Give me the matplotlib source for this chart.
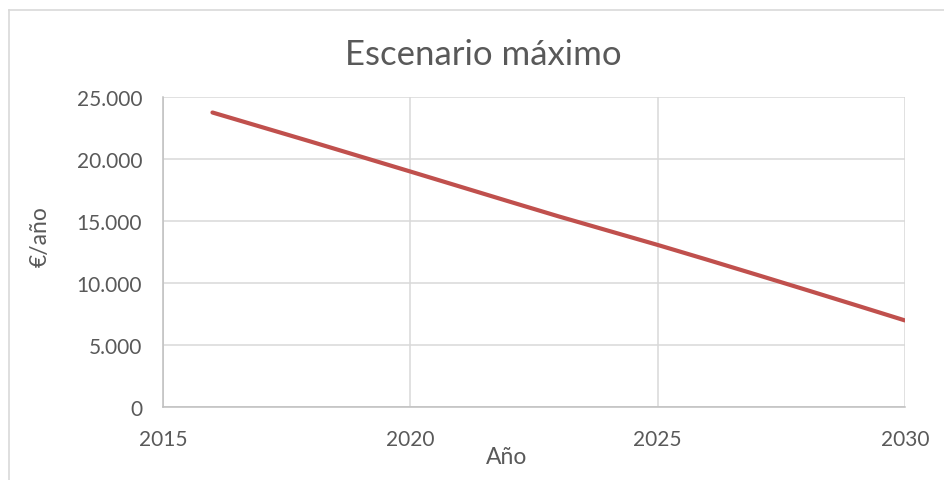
import matplotlib
matplotlib.use("Agg")
import matplotlib.pyplot as plt
from matplotlib.lines import Line2D
from matplotlib.ticker import FuncFormatter, MultipleLocator

years = [2016, 2017, 2018, 2019, 2020, 2021, 2022, 2023, 2024, 2025, 2026, 2027, 2028, 2029, 2030]
values = [23750, 22570, 21390, 20190, 18990, 17780, 16570, 15370, 14220, 13070, 11880, 10670, 9450, 8220, 6980]
title = "Escenario máximo"
xlabel = "Año"
ylabel = "€/año"

plt.rcParams['font.family'] = ['Lato', 'DejaVu Sans']
txt = '#595959'

fig = plt.figure(figsize=(9.44, 4.81), dpi=100)
W, H = 944, 481
ax = fig.add_axes([163 / W, 1 - 408 / H, (905 - 163) / W, (408 - 98) / H])

ax.plot(years, values, color='#c0504d', lw=3.0, solid_capstyle='round', zorder=3)

ax.set_xlim(2015, 2030)
ax.set_ylim(0, 25000)
ax.xaxis.set_major_locator(MultipleLocator(5))
ax.yaxis.set_major_locator(MultipleLocator(5000))
ax.yaxis.set_major_formatter(FuncFormatter(lambda v, p: f"{int(v):,}".replace(",", ".")))

ax.grid(True, color='#d9d9d9', lw=1.1, zorder=0)
for s in ['top', 'right']:
    ax.spines[s].set_visible(False)
for s in ['left', 'bottom']:
    ax.spines[s].set_color('#bfbfbf')
    ax.spines[s].set_linewidth(1.1)
    ax.spines[s].set_zorder(2)
ax.tick_params(axis='both', length=0, colors=txt, labelsize=15)
ax.tick_params(axis='y', pad=15)
ax.tick_params(axis='x', pad=16)

fig.text(483 / W, 1 - 55 / H, title, ha='center', va='center', fontsize=25, color=txt)
fig.text(507 / W, 1 - 458 / H, xlabel, ha='center', va='center', fontsize=16.5, color=txt)
fig.text(40 / W, 1 - 237 / H, ylabel, ha='center', va='center', fontsize=16.5, color=txt, rotation=90)

bx, by = 9 / W, 1 - 11 / H
fig.add_artist(Line2D([bx, 1], [by, by], transform=fig.transFigure, color='#d9d9d9', lw=1.2))
fig.add_artist(Line2D([bx, bx], [0, by], transform=fig.transFigure, color='#d9d9d9', lw=1.2))

fig.savefig('out.png', dpi=100)
